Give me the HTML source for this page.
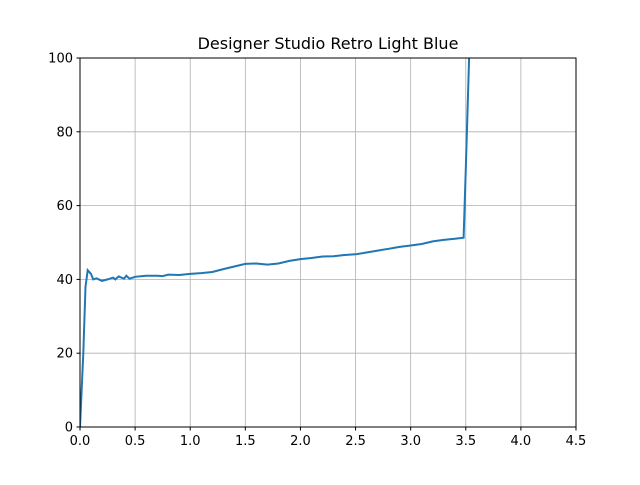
<!DOCTYPE html>
<html><head><meta charset="utf-8"><style>
body{margin:0;background:#fff;}
svg text{font-family:"DejaVu Sans","Liberation Sans",sans-serif;}
</style></head><body>
<svg id="chart" width="640" height="480" xmlns="http://www.w3.org/2000/svg">
<rect width="640" height="480" fill="#fff"/>
<defs><clipPath id="clip"><rect x="80" y="58" width="496" height="369"/></clipPath></defs>
<g id="grid"></g>
<g id="ticks"></g>
<path id="line" fill="none" stroke="#1f77b4" stroke-width="2" clip-path="url(#clip)"/>
<rect x="80" y="58" width="496" height="369" fill="none" stroke="#000" stroke-width="1"/>
<text x="328" y="49" font-size="16" text-anchor="middle">Designer Studio Retro Light Blue</text>
</svg>
<script>
const xVals=[0,0.03,0.05,0.07,0.1,0.12,0.15,0.2,0.25,0.3,0.32,0.35,0.4,0.42,0.45,0.5,0.6,0.7,0.75,0.8,0.9,1.0,1.1,1.2,1.3,1.4,1.5,1.6,1.7,1.8,1.9,2.0,2.1,2.2,2.3,2.4,2.5,2.6,2.7,2.8,2.9,3.0,3.1,3.2,3.3,3.4,3.48,3.5,3.53,3.54];
const yVals=[0,20,38,42.5,41.5,40,40.3,39.6,40,40.5,40,40.8,40.2,41,40.2,40.7,41,41,40.9,41.3,41.2,41.5,41.7,42,42.8,43.5,44.2,44.3,44,44.3,45,45.5,45.8,46.2,46.3,46.6,46.8,47.3,47.8,48.3,48.8,49.2,49.6,50.3,50.7,51,51.3,70,100,105];
const xTicks=[0,0.5,1.0,1.5,2.0,2.5,3.0,3.5,4.0,4.5];
const yTicks=[0,20,40,60,80,100];
const X0=80,X1=576,Y0=427,Y1=58;
const sx=v=>X0+(v-0)/(4.5-0)*(X1-X0);
const sy=v=>Y0-(v-0)/(100-0)*(Y0-Y1);
const NS="http://www.w3.org/2000/svg";
const grid=document.getElementById('grid'),ticks=document.getElementById('ticks');
function mk(tag,attrs,parent){const e=document.createElementNS(NS,tag);for(const k in attrs)e.setAttribute(k,attrs[k]);parent.appendChild(e);return e;}
xTicks.forEach(t=>{const x=sx(t);
 const g=mk('line',{x1:x,x2:x,y1:Y1,y2:Y0,stroke:'#b0b0b0','stroke-width':0.8},grid);
 
 
 const tk=mk('line',{x1:x,x2:x,y1:Y0,y2:Y0+3.5,stroke:'#000'},ticks);
 
 
 const tx=mk('text',{x:x,y:Y0+18,'font-size':13,'text-anchor':'middle'},ticks);tx.textContent=t.toFixed(1);
 
 
});
yTicks.forEach(t=>{const y=sy(t);
 const g=mk('line',{x1:X0,x2:X1,y1:y,y2:y,stroke:'#b0b0b0','stroke-width':0.8},grid);
 
 
 const tk=mk('line',{x1:X0-3.5,x2:X0,y1:y,y2:y,stroke:'#000'},ticks);
 
 
 const tx=mk('text',{x:X0-7,y:y+4.5,'font-size':13,'text-anchor':'end'},ticks);tx.textContent=t;
 
 
});
document.getElementById('line').setAttribute('d',xVals.map((v,i)=>(i?'L':'M')+sx(v).toFixed(1)+' '+sy(yVals[i]).toFixed(1)).join(' '));
</script>
</body></html>
